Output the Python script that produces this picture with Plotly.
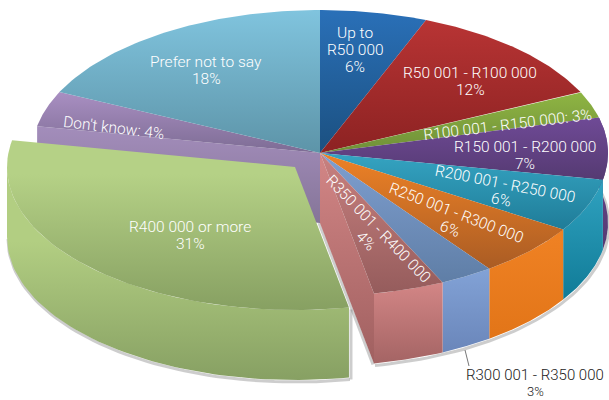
import math
import plotly.graph_objects as go

# ---- data ----
categories = ["Up to R50 000", "R50 001 - R100 000", "R100 001 - R150 000", "R150 001 - R200 000",
              "R200 001 - R250 000", "R250 001 - R300 000", "R300 001 - R350 000", "R350 001 - R400 000",
              "R400 000 or more", "Don't know", "Prefer not to say"]
values = [6, 12, 3, 7, 6, 6, 3, 4, 31, 4, 18]

top_light = ["#2a70b8", "#b83434", "#8fb543", "#6f4a96", "#35a4c2", "#ee8226", "#7f9fd0", "#c98180", "#b5d186", "#a98fc2", "#80c4de"]
top_dark = ["#1b5080", "#8c2222", "#6f8f38", "#553a72", "#1f7c98", "#aa5c24", "#5f7ea6", "#955c5c", "#87a062", "#7d6c94", "#5d94a8"]
wall_light = ["#2a70b8", "#b83434", "#8fb543", "#6f4a96", "#30a2c0", "#f08224", "#82a2d6", "#d38686", "#b2ce82", "#a38dbb", "#80c4de"]
wall_dark = ["#1b5080", "#8c2222", "#6f8f38", "#553a72", "#107b97", "#e27518", "#6a86ba", "#a46464", "#87a063", "#857598", "#5d94a8"]

labels = [
    (["Up to", "R50 000", "6%"], 355, 50, 0, "white", 17),
    (["R50 001 - R100 000", "12%"], 470, 81, 0, "white", 17),
    (["R100 001 - R150 000: 3%"], 508, 125, -7, "white", 17),
    (["R150 001 - R200 000", "7%"], 525, 155, 0, "white", 17),
    (["R200 001 - R250 000", "6%"], 503, 192, 11, "white", 17),
    (["R250 001 - R300 000", "6%"], 453, 221, 21, "white", 17),
    (["R300 001 - R350 000", "3%"], 535, 383, 0, "#222222", 16.5),
    (["R350 001 - R400 000", "4%"], 372, 235, 46, "white", 17),
    (["R400 000 or more", "31%"], 190, 235, 0, "white", 17),
    (["Don't know: 4%"], 114, 128, 7, "white", 17),
    (["Prefer not to say", "18%"], 206, 70, 0, "white", 17),
]

# ---- projection of the tilted pie ----
CX, CY, RX, RY, DEPTH = 320, 153, 288, 143, 70
EXPLODED = 8
SHIFT = (-25, 14)

cum = [0]
for v in values:
    cum.append(cum[-1] + v)
total = cum[-1]


def arc(a0, a1, dx=0, dy=0, n=60):
    xs, ys = [], []
    for k in range(n + 1):
        t = math.radians((a0 + (a1 - a0) * k / n))
        xs.append(CX + dx + RX * math.sin(t))
        ys.append(CY + dy - RY * math.cos(t))
    return xs, ys


fig = go.Figure()


def poly(xs, ys, c0, c1, hold=0.0):
    scale = [[0, c0], [1, c1]] if hold == 0 else [[0, c0], [hold, c0], [1, c1]]
    fig.add_trace(go.Scatter(
        x=xs + xs[:1], y=ys + ys[:1], mode="lines", line=dict(width=0), fill="toself",
        fillgradient=dict(type="vertical", start=min(ys), stop=max(ys), colorscale=scale),
        hoverinfo="skip", showlegend=False))


def shadow(xs, ys):
    fig.add_trace(go.Scatter(x=xs, y=ys, mode="lines", line=dict(color="rgba(90,90,90,0.3)", width=3),
                             hoverinfo="skip", showlegend=False))


ang = [c / total * 360 for c in cum]

# shadow of the pie's rim
x, y = arc(ang[3], ang[EXPLODED], 1, DEPTH + 2)
shadow(x, y)

# cut face of the "Don't know" slice seen through the gap
xe, ye = arc(ang[EXPLODED + 1], ang[EXPLODED + 1], n=1)
poly([CX, xe[0], xe[0], CX], [CY, ye[0], ye[0] + DEPTH, CY + DEPTH],
     wall_light[9], wall_dark[9])

# outer walls of the right-hand slices, back to front
for i in range(3, EXPLODED):
    x, y = arc(ang[i], ang[i + 1])
    poly(x + x[::-1], y + [b + DEPTH for b in y[::-1]], wall_light[i], wall_dark[i])

# cut face of the slice next to the gap, with its soft shadow
xe, ye = arc(ang[EXPLODED], ang[EXPLODED], n=1)
shadow([CX - 1, xe[0] - 1], [CY + DEPTH, ye[0] + DEPTH + 1])
poly([CX, xe[0], xe[0], CX], [CY, ye[0], ye[0] + DEPTH, CY + DEPTH], "#d38686", "#a06060")

# top faces
for i in range(len(values)):
    if i == EXPLODED:
        continue
    x, y = arc(ang[i], ang[i + 1])
    poly([CX] + x, [CY] + y, top_light[i], top_dark[i])

# exploded slice: shadow, wall, top
i = EXPLODED
x, y = arc(ang[i], ang[i + 1], SHIFT[0], SHIFT[1])
sx, sy = arc(ang[i], 270, SHIFT[0] + 1, SHIFT[1] + DEPTH + 2)
shadow(sx, sy)
shadow([sx[0] + 1, sx[0] + 1], [sy[0], sy[0] - DEPTH])
wx, wy = arc(ang[i], 270, SHIFT[0], SHIFT[1])
poly(wx + wx[::-1], wy + [b + DEPTH for b in wy[::-1]], wall_light[i], wall_dark[i], hold=0.35)
poly([CX + SHIFT[0]] + x, [CY + SHIFT[1]] + y, top_light[i], top_dark[i], hold=0.2)

# leader line of the outside label
fig.add_trace(go.Scatter(x=[465, 469], y=[350, 366], mode="lines", line=dict(color="#777777", width=1),
                         hoverinfo="skip", showlegend=False))

for lines, lx, ly, rot, col, gap in labels:
    r = math.radians(rot)
    for k, line in enumerate(lines):
        off = (k - (len(lines) - 1) / 2) * gap
        outside = gap != 17
        size = 15.5 if not outside else (15 if k == 0 else 13)
        fig.add_annotation(x=lx - off * math.sin(r), y=ly + off * math.cos(r), text=line, textangle=rot,
                           showarrow=False, xanchor="center", yanchor="middle",
                           height=14 if outside else None, borderpad=0 if outside else 1,
                           font=dict(family="Roboto", size=size, color=col, weight=300))

fig.update_layout(
    width=609, height=400, margin=dict(l=0, r=0, t=0, b=0),
    paper_bgcolor="white", plot_bgcolor="white", showlegend=False,
    xaxis=dict(range=[0, 609], visible=False, fixedrange=True),
    yaxis=dict(range=[400, 0], visible=False, fixedrange=True),
)
fig.write_html("out.html", config={"displayModeBar": False},
               post_script="document.body.style.margin='0';document.documentElement.style.overflow='hidden';")
